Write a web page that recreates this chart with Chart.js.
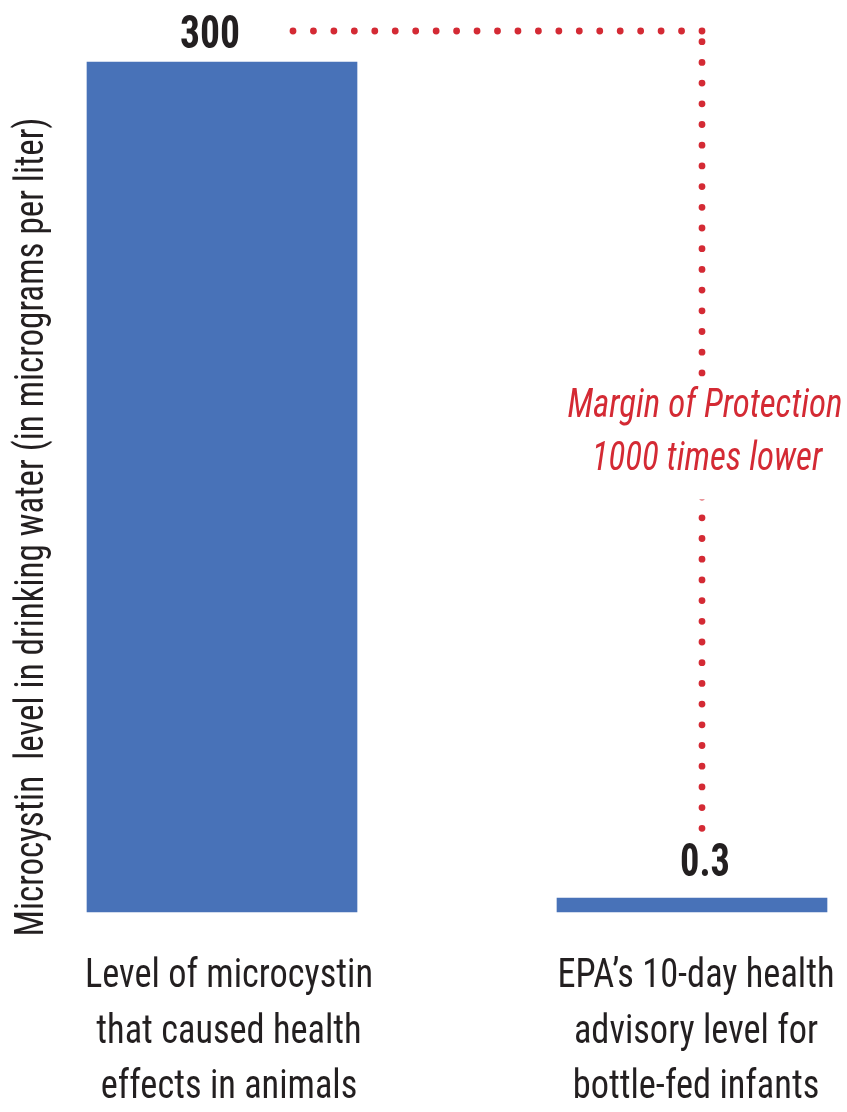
<!DOCTYPE html>
<html><head><meta charset="utf-8">
<script src="https://cdn.jsdelivr.net/npm/chart.js@4"></script>
<style>html,body{margin:0;padding:0;background:#fff;} #wrap{width:847px;height:1112px;}</style>
</head><body><div id="wrap"><canvas id="c" width="847" height="1112"></canvas></div>
<script>
// ---- data ----
const categories = [
  ['Level of microcystin', 'that caused health', 'effects in animals'],
  ['EPA\u2019s 10-day health', 'advisory level for', 'bottle-fed infants']
];
const values = [300, 0.3];
const valueLabels = ['300', '0.3'];
const yAxisTitle = 'Microcystin  level in drinking water (in micrograms per liter)';
const annotationLines = ['Margin of Protection', '1000 times lower'];
const yMin = 0;
const yMax = 300;

// ---- font detection ----
function hasFont(name) {
  const c = document.createElement('canvas').getContext('2d');
  const s = 'Level of microcystin 0123 WMmi';
  let diff = false;
  for (const base of ['monospace', 'serif']) {
    c.font = '40px ' + base; const a = c.measureText(s).width;
    c.font = '40px "' + name + '", ' + base; const b = c.measureText(s).width;
    if (a !== b) diff = true;
  }
  return diff;
}
let FAM = '"Liberation Sans", sans-serif';
for (const f of ['Liberation Sans Narrow', 'Roboto Condensed', 'DejaVu Sans Condensed']) {
  if (hasFont(f)) { FAM = '"' + f + '", "Liberation Sans", sans-serif'; break; }
}

const TEXT = '#231F20';
const RED = '#D42A34';
const BLUE = '#4872B8';

function drawScaled(ctx, text, x, y, s) {
  ctx.save();
  ctx.translate(x, y);
  ctx.scale(s, 1);
  ctx.fillText(text, 0, 0);
  ctx.restore();
}
function fitText(ctx, text, x, y, targetW) {
  drawScaled(ctx, text, x, y, targetW / ctx.measureText(text).width);
}

const annot = {
  id: 'annot',
  afterDatasetsDraw(chart) {
    const ctx = chart.ctx;
    const meta = chart.getDatasetMeta(0);
    const xs = chart.scales.x;
    const b1 = meta.data[0], b2 = meta.data[1];
    ctx.save();
    ctx.textAlign = 'center';
    ctx.textBaseline = 'alphabetic';

    // category labels under the bars
    ctx.fillStyle = TEXT;
    ctx.font = '40px ' + FAM;
    const sCat = 288 / ctx.measureText(categories[0][0]).width;
    const catShift = [7, 4];
    categories.forEach((lines, i) => {
      const px = xs.getPixelForTick(i) + catShift[i];
      lines.forEach((ln, j) => drawScaled(ctx, ln, px, xs.top + 75 + j * 55.5, sCat));
    });

    // value labels
    ctx.font = 'bold 46px ' + FAM;
    fitText(ctx, valueLabels[0], b1.x - 12, b1.y - 14, 60);
    fitText(ctx, valueLabels[1], b2.x + 13, b2.y - 22, 50);

    // dotted connector
    const cx = b2.x + 10;
    const topY = b1.y - 31;
    ctx.strokeStyle = RED;
    ctx.lineWidth = 6.8;
    ctx.lineCap = 'round';
    ctx.setLineDash([0, 20.45]);
    ctx.beginPath(); ctx.moveTo(cx, topY); ctx.lineTo(b1.x + 60, topY); ctx.stroke();
    ctx.setLineDash([0, 20.7]);
    ctx.beginPath(); ctx.moveTo(cx, topY + 10.7); ctx.lineTo(cx, b2.y - 69); ctx.stroke();
    ctx.setLineDash([]);
    // gap behind annotation text
    ctx.fillStyle = '#ffffff';
    ctx.fillRect(cx - 8, 380, 16, 119.5);

    // annotation text
    ctx.fillStyle = RED;
    ctx.font = 'italic 40px ' + FAM;
    const sAnn = 275 / ctx.measureText(annotationLines[0]).width;
    drawScaled(ctx, annotationLines[0], cx + 3, 417, sAnn);
    drawScaled(ctx, annotationLines[1], cx + 5, 470, sAnn);

    // y-axis title
    ctx.fillStyle = TEXT;
    ctx.font = '40px ' + FAM;
    ctx.save();
    ctx.translate(43, 527);
    ctx.rotate(-Math.PI / 2);
    fitText(ctx, yAxisTitle, 0, 0, 819);
    ctx.restore();
    ctx.restore();
  }
};

new Chart(document.getElementById('c'), {
  type: 'bar',
  data: {
    labels: categories,
    datasets: [{
      data: values,
      backgroundColor: BLUE,
      borderWidth: 0,
      barThickness: 270,
      minBarLength: 14,
      clip: false
    }]
  },
  options: {
    responsive: false,
    animation: false,
    devicePixelRatio: 1,
    layout: { padding: { top: 62, right: 155, left: 0, bottom: 0 } },
    plugins: { legend: { display: false }, tooltip: { enabled: false } },
    scales: {
      x: {
        offset: false,
        grid: { display: false },
        border: { display: false },
        ticks: { display: false },
        afterFit(scale) { scale.height = 200; scale.paddingLeft = 0; scale.paddingRight = 0; }
      },
      y: {
        min: yMin,
        max: yMax,
        grid: { display: false },
        border: { display: false },
        ticks: { display: false },
        afterFit(scale) { scale.width = 222; }
      }
    }
  },
  plugins: [annot]
});
</script>
</body></html>
